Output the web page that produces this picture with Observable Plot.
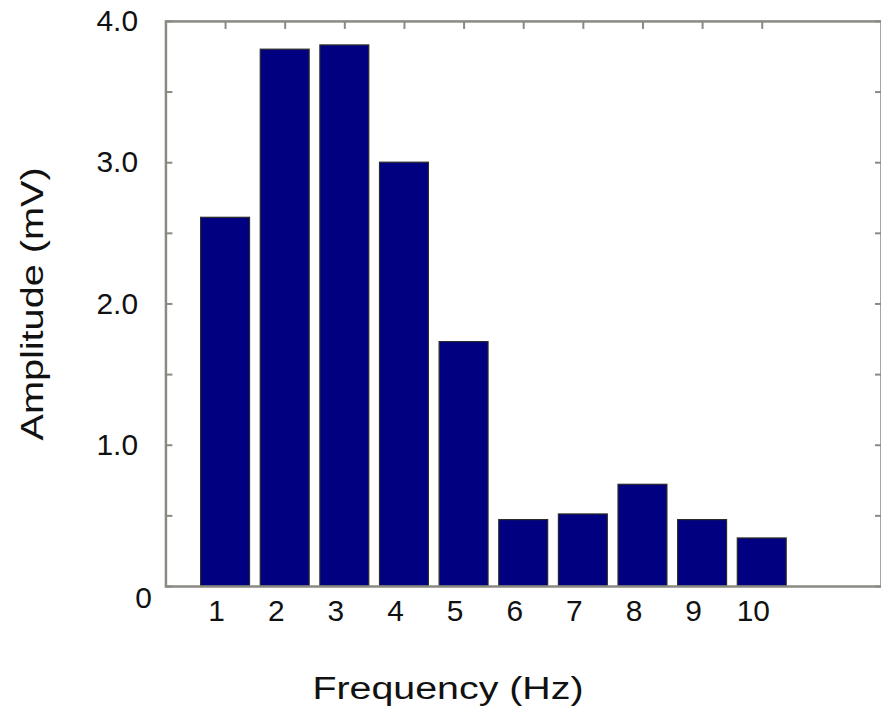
<!DOCTYPE html>
<html>
<head>
<meta charset="utf-8">
<script src="https://cdn.jsdelivr.net/npm/d3@7"></script>
<script src="https://cdn.jsdelivr.net/npm/@observablehq/plot@0.6"></script>
<style>
  html, body { margin: 0; padding: 0; background: #fff; overflow: hidden; }
  #wrap { width: 881px; height: 713px; overflow: hidden; }
  svg { font-family: "Liberation Sans", Arial, Helvetica, sans-serif; }
</style>
</head>
<body>
<div id="wrap"></div>
<script>
// Data
const frequency = [1, 2, 3, 4, 5, 6, 7, 8, 9, 10];
const amplitude = [2.61, 3.80, 3.83, 3.00, 1.73, 0.47, 0.51, 0.72, 0.47, 0.34];
const yTickValues = [0, 0.5, 1, 1.5, 2, 2.5, 3, 3.5, 4];
const yLabelValues = [1, 2, 3, 4];
const yZeroLabel = [0];
const xTitle = "Frequency (Hz)";
const yTitle = "Amplitude (mV)";

const data = frequency.map((f, i) => ({f, a: amplitude[i]}));
const frameColor = "#8a8a82";
const halfBar = 0.41;

const chart = Plot.plot({
  width: 884,
  height: 713,
  marginLeft: 166,
  marginRight: 0,
  marginTop: 21,
  marginBottom: 125,
  style: {fontFamily: '"Liberation Sans", Arial, sans-serif', background: "#fff", overflow: "hidden"},
  x: {domain: [0, 12], axis: null},
  y: {domain: [0, 4], axis: null},
  marks: [
    Plot.rectY(data, {
      x1: d => d.f - halfBar,
      x2: d => d.f + halfBar,
      y: "a",
      fill: "#000080",
      stroke: "#2a2a2a",
      strokeWidth: 1.2
    }),
    Plot.frame({stroke: frameColor, strokeWidth: 2.5}),
    Plot.axisY({anchor: "left", ticks: yTickValues, tickSize: -7, tickFormat: () => "", label: null, stroke: frameColor, strokeWidth: 2}),
    Plot.axisY({anchor: "right", ticks: yTickValues, tickSize: -7, tickFormat: () => "", label: null, stroke: frameColor, strokeWidth: 2}),
    Plot.axisX({anchor: "top", ticks: frequency, tickSize: -7, tickFormat: () => "", label: null, stroke: frameColor, strokeWidth: 2}),
    // y tick labels
    Plot.text(yLabelValues, {
      y: d => d,
      text: d => d.toFixed(1),
      frameAnchor: "left",
      textAnchor: "end",
      dx: -28,
      fontSize: 30,
      fill: "#111"
    }),
    Plot.text(yZeroLabel, {
      y: d => d,
      text: d => String(d),
      frameAnchor: "left",
      textAnchor: "end",
      dx: -14,
      dy: 12,
      fontSize: 30,
      fill: "#111"
    }),
    // x tick labels
    Plot.text(frequency, {
      x: d => d,
      text: d => String(d),
      frameAnchor: "bottom",
      lineAnchor: "top",
      dx: -9,
      dy: 13,
      fontSize: 30,
      fill: "#111"
    }),
    // axis titles
    Plot.text([xTitle], {
      text: d => d,
      frameAnchor: "bottom",
      lineAnchor: "bottom",
      textAnchor: "middle",
      dx: -76,
      dy: 113,
      fontSize: 32,
      fill: "#111"
    }),
    Plot.text([yTitle], {
      text: d => d,
      frameAnchor: "left",
      lineAnchor: "bottom",
      textAnchor: "middle",
      rotate: -90,
      dx: -123,
      fontSize: 32,
      fill: "#111"
    })
  ]
});

d3.select(chart).selectAll("text")
  .filter(function() { return this.textContent === xTitle || this.textContent === yTitle; })
  .attr("textLength", function() { return this.textContent === xTitle ? 272 : 274; })
  .attr("lengthAdjust", "spacingAndGlyphs");

document.getElementById("wrap").appendChild(chart);
</script>
</body>
</html>
